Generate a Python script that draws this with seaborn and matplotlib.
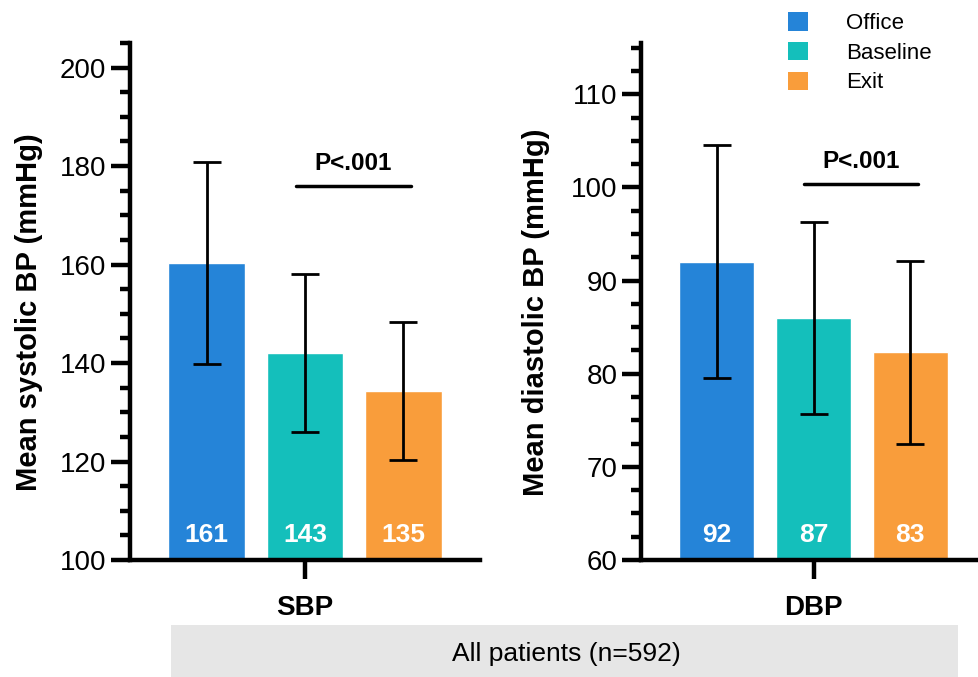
import matplotlib
matplotlib.use("Agg")
import matplotlib.pyplot as plt
from matplotlib.patches import Patch, Rectangle
from matplotlib.ticker import MultipleLocator
import seaborn as sns
import pandas as pd

# Values
periods = ["Office", "Baseline", "Exit"]
colors = ["#2584d8", "#14bfbb", "#f99d3b"]

sbp_mean = [160.3, 142.0, 134.3]
sbp_sd = [20.5, 16.0, 14.0]
sbp_labels = ["161", "143", "135"]

dbp_mean = [92.0, 86.0, 82.3]
dbp_sd = [12.5, 10.3, 9.8]
dbp_labels = ["92", "87", "83"]

sns.set_theme(style="ticks")
plt.rcParams["font.family"] = ["Liberation Sans", "DejaVu Sans"]
plt.rcParams.update({"axes.edgecolor": "black", "xtick.color": "black",
                     "ytick.color": "black", "text.color": "black",
                     "axes.labelcolor": "black"})


def draw_panel(ax, name, means, sds, labels, ylim, major, minor, ylabel, p_y, lpad):
    df = pd.DataFrame({"measure": name, "period": periods, "mean": means})
    sns.barplot(data=df, x="measure", y="mean", hue="period", hue_order=periods,
                palette=colors, saturation=1, width=0.8, gap=0.22,
                legend=False, ax=ax)
    centers = [p.get_x() + p.get_width() / 2 for p in ax.patches]
    ax.errorbar(centers, means, yerr=sds, fmt="none", ecolor="black",
                elinewidth=2, capsize=10, capthick=2)

    # values written inside the bars
    for c, lab in zip(centers, labels):
        ax.annotate(lab, xy=(c, ylim[0]), xytext=(0, 9), textcoords="offset points",
                    ha="center", va="bottom", color="white", fontweight="bold",
                    fontsize=19)

    # significance bar Baseline vs Exit
    x0, x1 = centers[1] - 0.025, centers[2] + 0.02
    ax.plot([x0, x1], [p_y, p_y], color="black", lw=2.5)
    ax.annotate("P<.001", xy=((x0 + x1) / 2, p_y), xytext=(0, 8),
                textcoords="offset points", ha="center", va="bottom",
                fontweight="bold", fontsize=17.5)

    ax.set_ylim(*ylim)
    ax.set_xlim(-0.475, 0.475)
    ax.yaxis.set_major_locator(MultipleLocator(major))
    ax.yaxis.set_minor_locator(MultipleLocator(minor))
    ax.spines[["top", "right"]].set_visible(False)
    ax.spines[["left", "bottom"]].set_linewidth(3.2)
    ax.tick_params(axis="y", which="major", length=14, width=3.2, labelsize=20, pad=3)
    ax.tick_params(axis="y", which="minor", length=7.5, width=3.2)
    ax.tick_params(axis="x", length=14, width=3.2, labelsize=20, pad=11)
    for t in ax.get_xticklabels():
        t.set_fontweight("bold")
    ax.set_xlabel("")
    ax.set_ylabel(ylabel, fontsize=21, fontweight="bold", labelpad=lpad)
    ax.yaxis.label.set_y(0.48)


fig = plt.figure(figsize=(9.79, 6.77), dpi=100)
ax1 = fig.add_axes([130 / 979, 117 / 677, 350 / 979, 517 / 677])
ax2 = fig.add_axes([641 / 979, 117 / 677, 345 / 979, 517 / 677])

draw_panel(ax1, "SBP", sbp_mean, sbp_sd, sbp_labels, (100, 205), 20, 5,
           "Mean systolic BP (mmHg)", 176, 12)
draw_panel(ax2, "DBP", dbp_mean, dbp_sd, dbp_labels, (60, 115.5), 10, 2.5,
           "Mean diastolic BP (mmHg)", 100.4, 15)

handles = [Patch(facecolor=c, edgecolor="none") for c in colors]
fig.legend(handles, periods, loc="upper left", bbox_to_anchor=(772 / 979, 1.005),
           frameon=False, fontsize=16, handlelength=0.9, handleheight=0.9,
           handletextpad=1.75, labelspacing=0.35, borderaxespad=0.3)

# grey strip with the patient group
fig.patches.append(Rectangle((171 / 979, 0), (958 - 171) / 979, 52 / 677,
                             transform=fig.transFigure, facecolor="#e6e6e6",
                             edgecolor="none"))
fig.text(566 / 979, 23 / 677, "All patients (n=592)", ha="center", va="center",
         fontsize=19)

fig.savefig("out.png", dpi=100)
